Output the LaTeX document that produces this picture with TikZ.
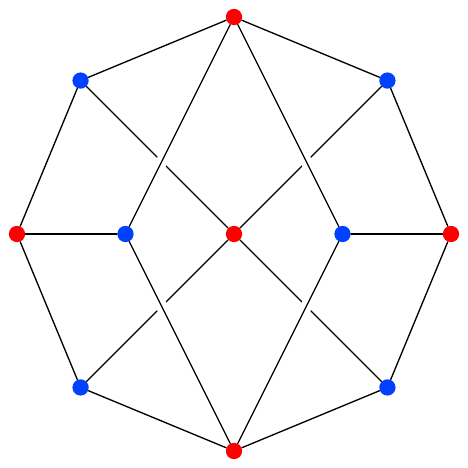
\documentclass[tikz,border=0pt]{standalone}
\usetikzlibrary{arrows}

\definecolor{vred}{RGB}{255,0,0}
\definecolor{vblue}{RGB}{0,64,255}

\begin{document}
\begin{tikzpicture}[cap=round,
	vertex/.style={circle,inner sep=0pt,minimum size=0.3cm},
	redv/.style={vertex,fill=vred},
	bluev/.style={vertex,fill=vblue},
	edge/.style={line width=0.7pt},
	over/.style={edge,preaction={draw,white,line width=6pt,shorten <=1.2cm,shorten >=1.2cm}}]
	\useasboundingbox (-4.3134cm,-4.3134cm) rectangle (4.3134cm,4.3134cm);

	% the outer octagon
	\foreach \n/\a/\c in {o0/90/redv, o1/135/bluev, o2/180/redv, o3/225/bluev,
		o4/270/redv, o5/315/bluev, o6/0/redv, o7/45/bluev}
		\node[\c] (\n) at (\a:4cm) {};

	% the three inner points
	\node[bluev] (il) at (-2cm,0cm) {};
	\node[redv] (c) at (0cm,0cm) {};
	\node[bluev] (ir) at (2cm,0cm) {};

	% sides of the octagon
	\foreach \x/\y in {o0/o1, o1/o2, o2/o3, o3/o4, o4/o5, o5/o6, o6/o7, o7/o0}
		\draw[edge] (\x) -- (\y);

	% spokes to the inner points
	\draw[edge] (o2) -- (il);
	\draw[edge] (o6) -- (ir);
	\foreach \x in {o1,o3,o5,o7}
		\draw[edge] (\x) -- (c);

	% these pass over the diagonals
	\foreach \x/\y in {o0/il, o0/ir, o4/il, o4/ir}
		\draw[over] (\x) -- (\y);
\end{tikzpicture}
\end{document}
